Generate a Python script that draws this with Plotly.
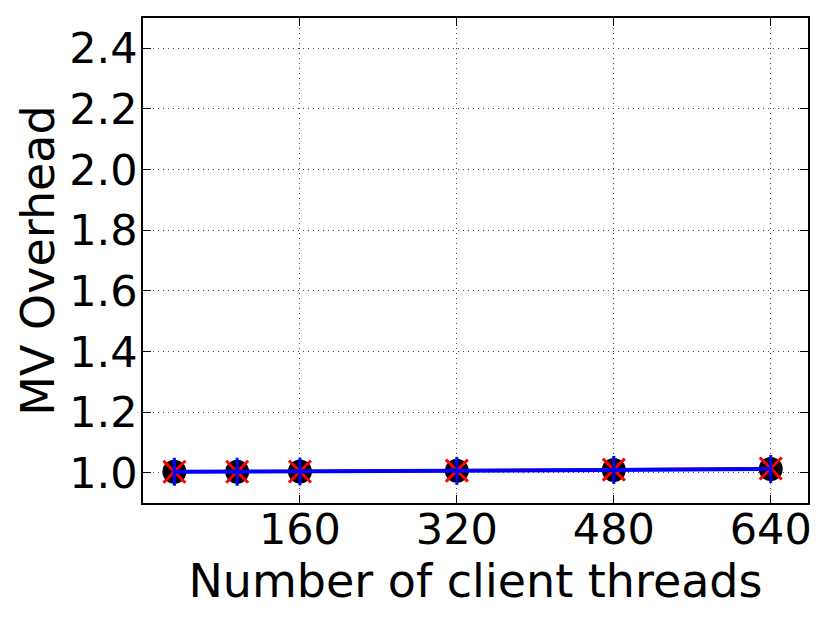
import plotly.graph_objects as go

# client threads and measured MV overhead
threads = [32, 96, 160, 320, 480, 640]
overhead_a = [1.003, 1.003, 1.004, 1.006, 1.009, 1.012]
overhead_b = [1.003, 1.003, 1.004, 1.007, 1.010, 1.014]
overhead_c = [1.003, 1.003, 1.004, 1.006, 1.009, 1.012]

x_ticks = [160, 320, 480, 640]
y_ticks = [1.0, 1.2, 1.4, 1.6, 1.8, 2.0, 2.2, 2.4]

fig = go.Figure()

fig.add_trace(go.Scatter(x=threads, y=overhead_a, mode="markers",
                         marker=dict(symbol="circle", size=24, color="black"),
                         showlegend=False))
fig.add_trace(go.Scatter(x=threads, y=overhead_b, mode="lines+markers",
                         line=dict(color="red", width=3),
                         marker=dict(symbol="x-thin", size=22,
                                     line=dict(color="red", width=3)),
                         showlegend=False))
fig.add_trace(go.Scatter(x=threads, y=overhead_c, mode="lines+markers",
                         line=dict(color="blue", width=4),
                         marker=dict(symbol="line-ns", size=20,
                                     line=dict(color="blue", width=3)),
                         showlegend=False))

axis_style = dict(
    showline=True, linecolor="black", linewidth=1.5, mirror="ticks",
    ticks="inside", ticklen=8, tickcolor="black",
    showgrid=True, gridcolor="#444", griddash="1px,4px", gridwidth=1,
    zeroline=False, automargin=False,
    tickfont=dict(family="DejaVu Sans", size=43, color="black"),
)

# the page body adds an 8px offset, so the figure is a bit smaller than the window
fig.update_layout(
    width=822, height=615,
    margin=dict(l=135, r=22, t=10, b=120),
    plot_bgcolor="white", paper_bgcolor="white",
    xaxis=dict(range=[0, 678], tickvals=x_ticks,
               ticklabelstandoff=-12,
               title=dict(text="Number of client threads", standoff=0,
                          font=dict(family="DejaVu Sans", size=46, color="black")),
               **axis_style),
    yaxis=dict(range=[0.9, 2.5], tickvals=y_ticks, tickformat=".1f",
               ticklabelstandoff=-5,
               title=dict(text="MV Overhead", standoff=0,
                          font=dict(family="DejaVu Sans", size=46, color="black")),
               **axis_style),
)

fig.write_html("out.html")
